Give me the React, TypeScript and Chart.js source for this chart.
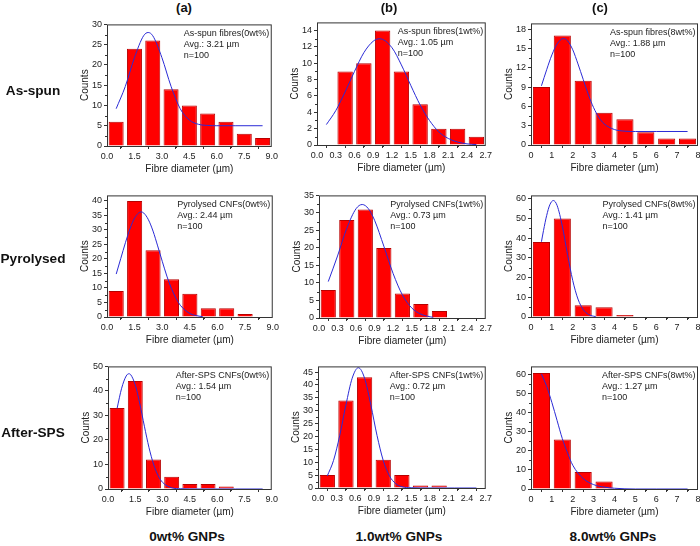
import React, { useEffect, useRef } from 'react';
import { Chart, registerables } from 'chart.js';

Chart.register(...registerables);

const FONT = '"Liberation Sans", Arial, Helvetica, sans-serif';
Chart.defaults.font.family = FONT;

// ---------------- data ----------------
// Row 1: As-spun
const asSpun0Centers = [0.5, 1.5, 2.5, 3.5, 4.5, 5.5, 6.5, 7.5, 8.5];
const asSpun0Counts = [6, 24, 26, 14, 10, 8, 6, 3, 2];
const asSpun0FitX = [0.5, 1.0, 1.5, 2.0, 2.25, 2.5, 3.0, 3.5, 4.0, 4.5, 5.0, 5.5, 6.0, 7.0, 8.5];
const asSpun0FitY = [9.2, 14.7, 21.8, 27.2, 28, 27.2, 21.8, 14.7, 9.2, 6.4, 5.35, 5.07, 5.0, 5.0, 5.0];
const asSpun0Text = ['As-spun fibres(0wt%)', 'Avg.: 3.21 µm', 'n=100'];

const asSpun1Centers = [0.45, 0.75, 1.05, 1.35, 1.65, 1.95, 2.25, 2.55];
const asSpun1Counts = [9, 10, 14, 9, 5, 2, 2, 1];
const asSpun1FitX = [0.15, 0.3, 0.45, 0.6, 0.75, 0.9, 1.0, 1.2, 1.35, 1.5, 1.65, 1.8, 1.95, 2.1, 2.25, 2.4, 2.55];
const asSpun1FitY = [2.5, 4.2, 6.5, 9.0, 11.3, 12.7, 13.0, 11.9, 9.8, 7.3, 4.9, 3.0, 1.6, 0.8, 0.36, 0.14, 0.05];
const asSpun1Text = ['As-spun fibres(1wt%)', 'Avg.: 1.05 µm', 'n=100'];

const asSpun8Centers = [0.5, 1.5, 2.5, 3.5, 4.5, 5.5, 6.5, 7.5];
const asSpun8Counts = [9, 17, 10, 5, 4, 2, 1, 1];
const asSpun8FitX = [0.5, 0.75, 1.0, 1.25, 1.55, 1.75, 2.0, 2.25, 2.5, 2.75, 3.0, 3.25, 3.5, 4.0, 4.5, 5.0, 6.0, 7.5];
const asSpun8FitY = [9.2, 11.7, 14.0, 15.7, 16.55, 16.2, 14.8, 12.6, 10.2, 7.8, 5.8, 4.3, 3.3, 2.4, 2.15, 2.1, 2.1, 2.1];
const asSpun8Text = ['As-spun fibres(8wt%)', 'Avg.: 1.88 µm', 'n=100'];

// Row 2: Pyrolysed
const pyro0Centers = [0.5, 1.5, 2.5, 3.5, 4.5, 5.5, 6.5, 7.5];
const pyro0Counts = [9, 40, 23, 13, 8, 3, 3, 1];
const pyro0FitX = [0.5, 0.75, 1.0, 1.25, 1.5, 1.85, 2.0, 2.25, 2.5, 2.75, 3.0, 3.25, 3.5, 3.75, 4.0, 4.5, 5.0, 5.2];
const pyro0FitY = [14.8, 20.2, 25.6, 30.4, 34.1, 36.2, 35.8, 33.5, 29.6, 24.5, 19.2, 14.1, 9.8, 6.4, 3.9, 1.2, 0.3, 0.1];
const pyro0Text = ['Pyrolysed CNFs(0wt%)', 'Avg.: 2.44 µm', 'n=100'];

const pyro1Centers = [0.15, 0.45, 0.75, 1.05, 1.35, 1.65, 1.95];
const pyro1Counts = [8, 28, 31, 20, 7, 4, 2];
const pyro1FitX = [0.15, 0.3, 0.45, 0.6, 0.7, 0.8, 0.9, 1.05, 1.2, 1.35, 1.5, 1.65, 1.8, 1.85];
const pyro1FitY = [10.4, 17.7, 25.6, 31.2, 32.4, 31.2, 27.9, 20.5, 12.7, 6.6, 2.9, 1.1, 0.34, 0.2];
const pyro1Text = ['Pyrolysed CNFs(1wt%)', 'Avg.: 0.73 µm', 'n=100'];

const pyro8Centers = [0.5, 1.5, 2.5, 3.5, 4.5];
const pyro8Counts = [38, 50, 6, 5, 1];
const pyro8FitX = [0.5, 0.6, 0.75, 0.9, 1.07, 1.25, 1.5, 1.75, 2.0, 2.25, 2.5, 2.75, 3.0, 3.1];
const pyro8FitY = [38.2, 43.9, 51.5, 56.9, 59.1, 56.6, 46.1, 31.7, 18.5, 9.1, 3.8, 1.3, 0.4, 0.2];
const pyro8Text = ['Pyrolysed CNFs(8wt%)', 'Avg.: 1.41 µm', 'n=100'];

// Row 3: After-SPS
const sps0Centers = [0.5, 1.5, 2.5, 3.5, 4.5, 5.5, 6.5];
const sps0Counts = [33, 44, 12, 5, 2, 2, 1];
const sps0FitX = [0.5, 0.75, 1.0, 1.15, 1.25, 1.5, 1.75, 2.0, 2.25, 2.5, 2.75, 3.0, 3.5, 4.0, 5.0, 6.0, 7.0, 8.5];
const sps0FitY = [32.9, 41.1, 46.1, 47, 46.6, 42.4, 34.7, 25.6, 17.0, 10.2, 5.5, 2.7, 0.5, 0.1, 0, 0, 0, 0];
const sps0Text = ['After-SPS CNFs(0wt%)', 'Avg.: 1.54 µm', 'n=100'];

const sps1Centers = [0.15, 0.45, 0.75, 1.05, 1.35, 1.65, 1.95];
const sps1Counts = [5, 34, 43, 11, 5, 1, 1];
const sps1FitX = [0.15, 0.25, 0.35, 0.45, 0.55, 0.65, 0.75, 0.85, 0.95, 1.05, 1.15, 1.25, 1.35, 1.5, 1.8, 2.2, 2.55];
const sps1FitY = [4.7, 10.7, 20.4, 32.3, 42.6, 46.7, 42.6, 32.3, 20.4, 10.7, 4.7, 1.7, 0.5, 0.1, 0, 0, 0];
const sps1Text = ['After-SPS CNFs(1wt%)', 'Avg.: 0.72 µm', 'n=100'];

const sps8Centers = [0.5, 1.5, 2.5, 3.5];
const sps8Counts = [61, 26, 9, 4];
const sps8FitX = [0.5, 0.75, 1.0, 1.25, 1.5, 1.75, 2.0, 2.5, 3.0, 3.5, 4.0, 4.5, 5.0, 6.0, 7.5];
const sps8FitY = [60.5, 54, 45.5, 36, 26.5, 19, 12.5, 5.5, 2.3, 1.0, 0.4, 0.1, 0, 0, 0];
const sps8Text = ['After-SPS CNFs(8wt%)', 'Avg.: 1.27 µm', 'n=100'];

const rowLabels = ['As-spun', 'Pyrolysed', 'After-SPS'];
const columnHeaders = ['(a)', '(b)', '(c)'];
const columnFooters = ['0wt% GNPs', '1.0wt% GNPs', '8.0wt% GNPs'];
const xTitle = 'Fibre diameter (µm)';
const yTitle = 'Counts';

// ---------------- layout ----------------
type PanelDef = {
  key: string;
  centers: number[];
  counts: number[];
  fitX: number[];
  fitY: number[];
  lines: string[];
  xMax: number;
  xStep: number;
  xDec: number;
  yMax: number;
  yStep: number;
  box: [number, number, number, number]; // left, top, right, bottom of plot area
};

const panels: PanelDef[] = [
  { key: 'a1', centers: asSpun0Centers, counts: asSpun0Counts, fitX: asSpun0FitX, fitY: asSpun0FitY, lines: asSpun0Text, xMax: 9, xStep: 1.5, xDec: 1, yMax: 30, yStep: 5, box: [107, 23, 272, 146] },
  { key: 'b1', centers: asSpun1Centers, counts: asSpun1Counts, fitX: asSpun1FitX, fitY: asSpun1FitY, lines: asSpun1Text, xMax: 2.7, xStep: 0.3, xDec: 1, yMax: 15, yStep: 2, box: [317, 21, 486, 145] },
  { key: 'c1', centers: asSpun8Centers, counts: asSpun8Counts, fitX: asSpun8FitX, fitY: asSpun8FitY, lines: asSpun8Text, xMax: 8, xStep: 1, xDec: 0, yMax: 18.9, yStep: 3, box: [531, 22, 698, 145] },
  { key: 'a2', centers: pyro0Centers, counts: pyro0Counts, fitX: pyro0FitX, fitY: pyro0FitY, lines: pyro0Text, xMax: 9, xStep: 1.5, xDec: 1, yMax: 41.9, yStep: 5, box: [107, 194, 273, 317] },
  { key: 'b2', centers: pyro1Centers, counts: pyro1Counts, fitX: pyro1FitX, fitY: pyro1FitY, lines: pyro1Text, xMax: 2.7, xStep: 0.3, xDec: 1, yMax: 35, yStep: 5, box: [319, 194, 486, 318] },
  { key: 'c2', centers: pyro8Centers, counts: pyro8Counts, fitX: pyro8FitX, fitY: pyro8FitY, lines: pyro8Text, xMax: 8, xStep: 1, xDec: 0, yMax: 61.7, yStep: 10, box: [531, 194, 698, 317] },
  { key: 'a3', centers: sps0Centers, counts: sps0Counts, fitX: sps0FitX, fitY: sps0FitY, lines: sps0Text, xMax: 9, xStep: 1.5, xDec: 1, yMax: 50, yStep: 10, box: [108, 365, 272, 489] },
  { key: 'b3', centers: sps1Centers, counts: sps1Counts, fitX: sps1FitX, fitY: sps1FitY, lines: sps1Text, xMax: 2.7, xStep: 0.3, xDec: 1, yMax: 47.2, yStep: 5, box: [318, 365, 486, 488] },
  { key: 'c3', centers: sps8Centers, counts: sps8Counts, fitX: sps8FitX, fitY: sps8FitY, lines: sps8Text, xMax: 8, xStep: 1, xDec: 0, yMax: 64.5, yStep: 10, box: [531, 365, 698, 489] },
];

const PAD_L = 4, PAD_T = 6, PAD_R = 8, PAD_B = 2;
const Y_W = 30, X_H = 29;
const AXIS_COLOR = '#333333';
const TEXT_COLOR = '#222222';

const framePlugin = {
  id: 'frame',
  afterDraw(chart: any, _args: any, opts: any) {
    const { ctx, chartArea } = chart;
    const { left, top, right, bottom } = chartArea;
    ctx.save();
    ctx.strokeStyle = AXIS_COLOR;
    ctx.lineWidth = 1;
    ctx.strokeRect(left + 0.5, top + 0.5, right - left - 1, bottom - top);
    // minor ticks
    const xs = chart.scales.x;
    const ys = chart.scales.y;
    ctx.beginPath();
    for (let i = 0; i < xs.ticks.length - 1; i++) {
      const m = (xs.ticks[i].value + xs.ticks[i + 1].value) / 2;
      const px = Math.round(xs.getPixelForValue(m)) + 0.5;
      ctx.moveTo(px, bottom);
      ctx.lineTo(px, bottom + 2);
    }
    for (let i = 0; i < ys.ticks.length - 1; i++) {
      const m = (ys.ticks[i].value + ys.ticks[i + 1].value) / 2;
      const py = Math.round(ys.getPixelForValue(m)) + 0.5;
      ctx.moveTo(left, py);
      ctx.lineTo(left - 2, py);
    }
    ctx.stroke();
    // annotation text
    const lines: string[] = opts.lines || [];
    ctx.font = `9px ${FONT}`;
    ctx.fillStyle = TEXT_COLOR;
    ctx.textBaseline = 'middle';
    ctx.textAlign = 'left';
    const w = lines.length ? ctx.measureText(lines[0]).width : 0;
    const x0 = right - w - 2.5;
    lines.forEach((t, i) => ctx.fillText(t, x0, top + 9.5 + i * 10.7));
    ctx.restore();
  },
};

function Panel({ p }: { p: PanelDef }) {
  const ref = useRef<HTMLCanvasElement>(null);
  const [L, T, R, B] = p.box;
  const cw = R - L + Y_W + PAD_L + PAD_R;
  const ch = B - T + X_H + PAD_T + PAD_B;

  useEffect(() => {
    if (!ref.current) return;
    const chart = new Chart(ref.current, {
      type: 'bar',
      data: {
        datasets: [
          {
            type: 'line',
            data: p.fitX.map((x, i) => ({ x, y: p.fitY[i] })),
            borderColor: '#2b2bd6',
            borderWidth: 1,
            pointRadius: 0,
            fill: false,
            cubicInterpolationMode: 'monotone',
            order: 0,
          } as any,
          {
            type: 'bar',
            data: p.centers.map((x, i) => ({ x, y: p.counts[i] })),
            backgroundColor: '#ff0000',
            borderColor: '#b80000',
            borderWidth: 1,
            barPercentage: 0.82,
            categoryPercentage: 1,
            order: 1,
          } as any,
        ],
      },
      options: {
        responsive: false,
        animation: false,
        events: [],
        layout: { padding: { left: PAD_L, top: PAD_T, right: PAD_R, bottom: PAD_B }, autoPadding: false } as any,
        plugins: {
          legend: { display: false },
          tooltip: { enabled: false },
          title: { display: false },
          frame: { lines: p.lines },
        } as any,
        scales: {
          x: {
            type: 'linear',
            min: 0,
            max: p.xMax,
            offset: false,
            afterFit: (s: any) => { s.height = X_H; },
            grid: { drawOnChartArea: false, drawTicks: true, tickLength: 3, color: AXIS_COLOR },
            border: { display: false },
            ticks: {
              stepSize: p.xStep,
              autoSkip: false,
              maxRotation: 0,
              minRotation: 0,
              includeBounds: false,
              padding: 2,
              color: TEXT_COLOR,
              font: { size: 9 },
              callback: (v: any) => Number(v).toFixed(p.xDec),
            },
            title: { display: true, text: xTitle, color: TEXT_COLOR, font: { size: 10 }, padding: { top: 0, bottom: 0 } },
          } as any,
          y: {
            type: 'linear',
            min: 0,
            max: p.yMax,
            afterFit: (s: any) => { s.width = Y_W; },
            grid: { drawOnChartArea: false, drawTicks: true, tickLength: 3, color: AXIS_COLOR },
            border: { display: false },
            ticks: {
              stepSize: p.yStep,
              includeBounds: false,
              autoSkip: false,
              padding: 2,
              color: TEXT_COLOR,
              font: { size: 9 },
              callback: (v: any) => String(Math.round(Number(v))),
            },
            title: { display: true, text: yTitle, color: TEXT_COLOR, font: { size: 10 }, padding: { top: 2, bottom: 0 } },
          } as any,
        },
      },
      plugins: [framePlugin],
    });
    return () => chart.destroy();
  }, []);

  return (
    <canvas
      ref={ref}
      width={cw}
      height={ch}
      style={{ position: 'absolute', left: L - Y_W - PAD_L, top: T - PAD_T, width: cw, height: ch }}
    />
  );
}

function Label({ text, cx, cy, size }: { text: string; cx: number; cy: number; size: number }) {
  return (
    <div
      style={{
        position: 'absolute',
        left: cx - 70,
        top: cy - 8,
        width: 140,
        height: 16,
        lineHeight: '16px',
        textAlign: 'center',
        whiteSpace: 'nowrap',
        fontWeight: 'bold',
        fontSize: size,
        color: '#111',
        fontFamily: FONT,
      }}
    >
      {text}
    </div>
  );
}

const rowLabelY = [91, 259, 433];
const headerX = [184, 389, 600];
const footerX = [187, 399, 613];

export default function App() {
  return (
    <div
      style={{
        position: 'fixed',
        left: 0,
        top: 0,
        width: 700,
        height: 546,
        overflow: 'hidden',
        background: '#ffffff',
        fontFamily: FONT,
      }}
    >
      {panels.map((p) => (
        <Panel key={p.key} p={p} />
      ))}
      {rowLabels.map((t, i) => (
        <Label key={t} text={t} cx={33} cy={rowLabelY[i]} size={13.6} />
      ))}
      {columnHeaders.map((t, i) => (
        <Label key={t} text={t} cx={headerX[i]} cy={8} size={13} />
      ))}
      {columnFooters.map((t, i) => (
        <Label key={t} text={t} cx={footerX[i]} cy={537} size={13.6} />
      ))}
    </div>
  );
}
